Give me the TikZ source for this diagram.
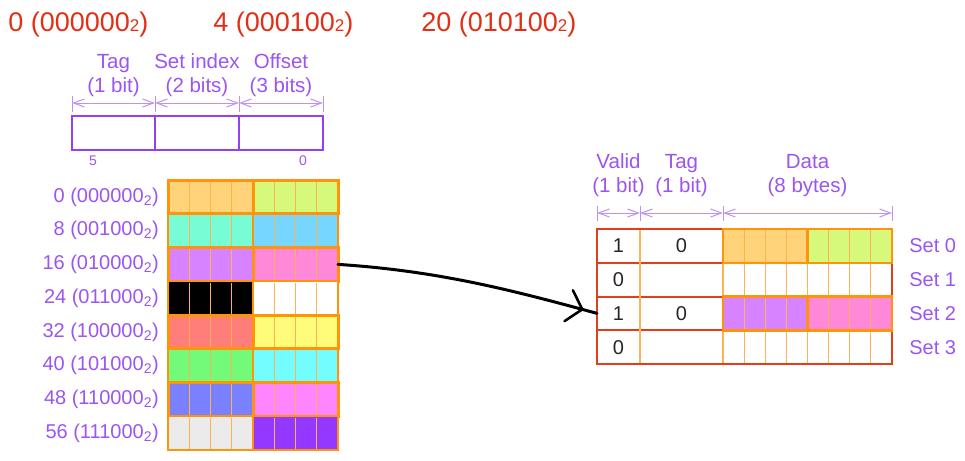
\documentclass[tikz,border=0pt]{standalone}
\usepackage{fontspec}
\setmainfont{Liberation Sans}
\usetikzlibrary{positioning,arrows.meta,decorations.markings}

\definecolor{addrred}{RGB}{226,48,22}
\definecolor{lblpurple}{RGB}{155,85,240}
\definecolor{boxpurple}{RGB}{150,62,245}
\definecolor{dimpurple}{RGB}{190,145,248}
\definecolor{blkorange}{RGB}{255,148,10}
\definecolor{cellorange}{RGB}{255,178,80}
\definecolor{tabred}{RGB}{226,62,28}
\definecolor{c0l}{RGB}{255,211,122}
\definecolor{c0r}{RGB}{215,249,123}
\definecolor{c1l}{RGB}{120,252,214}
\definecolor{c1r}{RGB}{118,214,255}
\definecolor{c2l}{RGB}{215,131,255}
\definecolor{c2r}{RGB}{255,137,216}
\definecolor{c3l}{RGB}{0,0,0}
\definecolor{c3r}{RGB}{255,255,255}
\definecolor{c4l}{RGB}{255,126,121}
\definecolor{c4r}{RGB}{255,252,121}
\definecolor{c5l}{RGB}{115,250,121}
\definecolor{c5r}{RGB}{115,253,255}
\definecolor{c6l}{RGB}{122,129,255}
\definecolor{c6r}{RGB}{255,133,255}
\definecolor{c7l}{RGB}{235,235,235}
\definecolor{c7r}{RGB}{148,55,255}

\begin{document}
\begin{tikzpicture}[x=1pt,y=-1pt,>={Straight Barb[length=11pt,width=8pt]},
                    semithick]
\tikzstyle{addr}=[text=addrred,font=\fontsize{27}{30}\selectfont,anchor=base west,inner sep=0pt]
\tikzstyle{hdr}=[text=lblpurple,font=\fontsize{20.5}{24}\selectfont,align=center,inner sep=0pt]
\tikzstyle{field}=[draw=boxpurple,line width=2.2pt,minimum height=34pt,inner sep=0pt,outer sep=0pt]
\tikzstyle{bitno}=[text=lblpurple,font=\fontsize{14}{14}\selectfont,inner sep=0pt]
\tikzstyle{dimline}=[draw=dimpurple,line width=1pt,<->]
\tikzstyle{dimtick}=[draw=dimpurple,line width=1pt]
\tikzstyle{blk}=[draw=blkorange,minimum width=85pt,minimum height=33.75pt,inner sep=0pt,outer sep=0pt]
\tikzstyle{memlbl}=[text=lblpurple,font=\fontsize{20}{22}\selectfont,inner sep=0pt]
\tikzstyle{cellline}=[draw=cellorange,line width=1pt]
\tikzstyle{tabcell}=[draw=tabred,line width=2pt,minimum height=33.75pt,inner sep=0pt,outer sep=0pt,
                     text=black!85,font=\fontsize{20}{20}\selectfont]
\tikzstyle{dat}=[draw=cellorange,line width=1pt,minimum width=84.5pt,minimum height=33.75pt,inner sep=0pt,outer sep=0pt]
\tikzstyle{setlbl}=[text=lblpurple,font=\fontsize{20}{20}\selectfont,anchor=west,inner sep=0pt]

        \fill[white] (0,0) rectangle (965,460);
        \useasboundingbox (0,0) rectangle (965,460);

        % addresses
        \node[addr] (a0)  at (8,31.5)   {0 (000000{\fontsize{17}{17}\selectfont 2})};
        \node[addr] (a4)  at (213,31.5) {4 (000100{\fontsize{17}{17}\selectfont 2})};
        \node[addr] (a20) at (421,31.5) {20 (010100{\fontsize{17}{17}\selectfont 2})};

        % address fields
        \node[field,minimum width=83pt] (tagf) at (113.5,133) {};
        \node[field,minimum width=84pt] (setf) [right=0pt of tagf] {};
        \node[field,minimum width=84pt] (offf) [right=0pt of setf] {};

        \node[hdr] (htag) [above=19pt of tagf] {Tag\\(1 bit)};
        \node[hdr] (hset) [above=19pt of setf] {Set index\\(2 bits)};
        \node[hdr] (hoff) [above=19pt of offf] {Offset\\(3 bits)};

        \foreach \p in {tagf.north west,setf.north west,offf.north west,offf.north east}
            \draw[dimtick] ([yshift=4pt]\p) -- ([yshift=20pt]\p);
        \draw[dimline] ([yshift=13pt]tagf.north west) -- ([yshift=13pt]tagf.north east);
        \draw[dimline] ([yshift=13pt]setf.north west) -- ([yshift=13pt]setf.north east);
        \draw[dimline] ([yshift=13pt]offf.north west) -- ([yshift=13pt]offf.north east);

        \node[bitno] (b5) at ([xshift=21pt,yshift=-11pt]tagf.south west) {5};
        \node[bitno] (b0) at ([xshift=-20pt,yshift=-11pt]offf.south east) {0};

        % memory blocks
        \foreach \i/\lc/\rc/\val/\bits/\lw in {0/c0l/c0r/0/000000/3pt, 1/c1l/c1r/8/001000/2pt,
                 2/c2l/c2r/16/010000/3pt, 3/c3l/c3r/24/011000/2pt, 4/c4l/c4r/32/100000/3pt,
                 5/c5l/c5r/40/101000/2pt, 6/c6l/c6r/48/110000/3pt, 7/c7l/c7r/56/111000/2pt}{
            \node[blk,fill=\lc,line width=\lw] (m\i l) at (210.5,{196.875+33.75*\i}) {};
            \node[blk,fill=\rc,line width=\lw] (m\i r) [right=0pt of m\i l] {};
            \foreach \k in {1,2,3}{
                \draw[cellline] ([xshift=\k*21.25pt,yshift=-1.5pt]m\i l.north west) -- ([xshift=\k*21.25pt,yshift=1.5pt]m\i l.south west);
                \draw[cellline] ([xshift=\k*21.25pt,yshift=-1.5pt]m\i r.north west) -- ([xshift=\k*21.25pt,yshift=1.5pt]m\i r.south west);
            }
            \node[memlbl,left=9pt of m\i l] (l\i) {\val\ (\bits\textsubscript{2})};
        }

        % cache
        \foreach \i/\vb/\tg/\lc/\rc in {0/1/0/c0l/c0r, 1/0//white/white, 2/1/0/c2l/c2r, 3/0//white/white}{
            \node[tabcell,minimum width=43pt] (v\i) at (618.5,{245.875+33.75*\i}) {\vb};
            \node[tabcell,minimum width=83pt] (t\i) [right=0pt of v\i] {\tg};
            \node[dat,fill=\lc] (d\i l) [right=0pt of t\i] {};
            \node[dat,fill=\rc] (d\i r) [right=0pt of d\i l] {};
            \foreach \k in {1,2,3}{
                \draw[cellline] ([xshift=\k*21.125pt]d\i l.north west) -- ([xshift=\k*21.125pt]d\i l.south west);
                \draw[cellline] ([xshift=\k*21.125pt]d\i r.north west) -- ([xshift=\k*21.125pt]d\i r.south west);
            }
            \node[setlbl,right=17pt of d\i r] (s\i) {Set \i};
        }
        \draw[cellline,line width=2pt] (v0.north east) -- (v3.south east);
        \draw[cellline,line width=2pt] (t0.north east) -- (t3.south east);
        \draw[tabred,line width=2pt] (v0.north west) rectangle (d3r.south east);
        \foreach \i in {0,2}{
            \draw[blkorange,line width=2.5pt] (d\i l.north west) rectangle (d\i l.south east);
            \draw[blkorange,line width=2.5pt] (d\i r.north west) rectangle (d\i r.south east);
        }

        \node[hdr] (hval) [above=32pt of v0] {Valid\\(1 bit)};
        \node[hdr] (htg)  [above=32pt of t0] {Tag\\(1 bit)};
        \node[hdr] (hdat) [above=32pt of d0l.north east,anchor=south] {Data\\(8 bytes)};

        \foreach \p in {v0.north west,t0.north west,d0l.north west,d0r.north east}
            \draw[dimtick] ([yshift=8pt]\p) -- ([yshift=23pt]\p);
        \draw[dimline] ([yshift=16pt]v0.north west) -- ([yshift=16pt]v0.north east);
        \draw[dimline] ([yshift=16pt]t0.north west) -- ([yshift=16pt]t0.north east);
        \draw[dimline] ([yshift=16pt]d0l.north west) -- ([yshift=16pt]d0r.north east);

        \path[draw=black,line width=3pt,line cap=round,
              postaction={decorate},
              decoration={markings,mark=at position -14pt with
                  {\arrow{Straight Barb[length=14pt,width=32pt,line width=2.6pt,round]}}}]
        (m2r.east) .. controls (440,271) and (515,291) .. (v2.west)
        ; %end path

\end{tikzpicture}
\end{document}
